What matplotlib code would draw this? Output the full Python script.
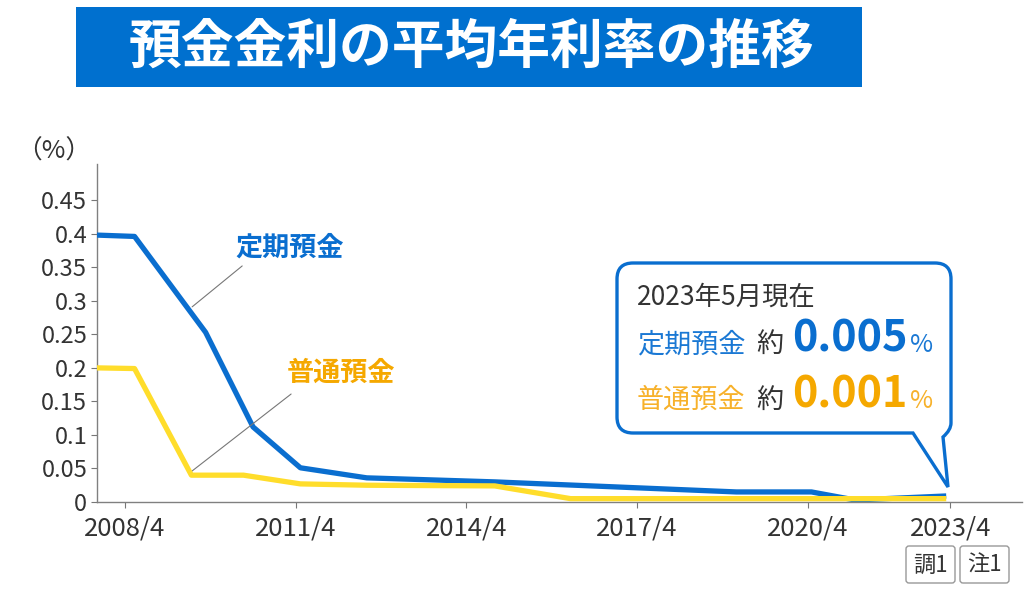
import numpy as np
import matplotlib
matplotlib.use('Agg')
import matplotlib.pyplot as plt
from matplotlib.path import Path
from matplotlib.patches import PathPatch, Rectangle, FancyBboxPatch
from matplotlib.transforms import Affine2D

plt.rcParams['font.family'] = ['Noto Sans CJK JP', 'DejaVu Sans']

# data (year/month, % per year)
teiki_dates = ["2007/10", "2008/6", "2009/9", "2010/7", "2011/5", "2012/7",
               "2014/10", "2019/1", "2020/5", "2021/4", "2023/3"]
teiki_rates = [0.398, 0.396, 0.253, 0.112, 0.051, 0.036,
               0.030, 0.015, 0.015, 0.003, 0.009]
futsu_dates = ["2007/10", "2008/6", "2009/6", "2010/5", "2011/5", "2012/7",
               "2014/10", "2016/2", "2023/3"]
futsu_rates = [0.200, 0.199, 0.040, 0.040, 0.027, 0.025,
               0.024, 0.005, 0.005]
x_tick_labels = ["2008/4", "2011/4", "2014/4", "2017/4", "2020/4", "2023/4"]
y_ticks = [0, 0.05, 0.1, 0.15, 0.2, 0.25, 0.3, 0.35, 0.4, 0.45]
y_tick_labels = ["0", "0.05", "0.1", "0.15", "0.2", "0.25", "0.3", "0.35", "0.4", "0.45"]

BLUE = '#0A6ECF'
YELLOW = '#FFDD2B'
ORANGE = '#F5A800'
DARK = '#333333'
W, H = 1024, 597


def to_year(s):
    y, m = s.split('/')
    return int(y) + (int(m) - 1) / 12


# the last 3 years are drawn a bit narrower in the original
BREAK = 2020.25
K = 143 / 171


def fwd(x):
    x = np.asarray(x, dtype=float)
    return np.where(x <= BREAK, x, BREAK + (x - BREAK) * K)


def inv(x):
    x = np.asarray(x, dtype=float)
    return np.where(x <= BREAK, x, BREAK + (x - BREAK) / K)


fig = plt.figure(figsize=(W / 100, H / 100), dpi=100)
px = Affine2D().scale(1 / W, -1 / H).translate(0, 1) + fig.transFigure

# title
fig.patches.append(Rectangle((76, 7), 786, 80, transform=px, facecolor='#0070CF',
                             edgecolor='none'))
fig.text(471, 47, '預金金利の平均年利率の推移', transform=px, color='white',
         fontsize=38, fontweight='bold', ha='center', va='center')

ax = fig.add_axes([97 / W, 1 - 502 / H, (1022 - 97) / W, (502 - 164) / H])
ax.set_xscale('function', functions=(fwd, inv))

xb = [to_year(d) for d in teiki_dates]
xy_ = [to_year(d) for d in futsu_dates]
ax.plot(xb, teiki_rates, color=BLUE, lw=3.8, solid_capstyle='butt', zorder=3)
ax.plot(xy_, futsu_rates, color=YELLOW, lw=3.8, solid_capstyle='butt', zorder=4)

ax.set_xlim(2007.757, 2024.76)
ax.set_ylim(0, 0.504)
ax.set_xticks([to_year(s) for s in x_tick_labels])
ax.set_xticklabels(x_tick_labels)
ax.set_yticks(y_ticks)
ax.set_yticklabels(y_tick_labels)
ax.minorticks_off()

for s in ['top', 'right']:
    ax.spines[s].set_visible(False)
for s in ['left', 'bottom']:
    ax.spines[s].set_color('#808080')
    ax.spines[s].set_linewidth(1)
ax.tick_params(axis='both', length=4, color='#777777', labelsize=17,
               labelcolor=DARK, direction='out')
ax.tick_params(axis='y', pad=3)
ax.tick_params(axis='x', pad=6, labelsize=18.5)

fig.text(54, 152, '（%）', transform=px, fontsize=18.5, color=DARK,
         ha='center', va='center')

# series labels with leader lines
ax.annotate('', xy=(2009.43, 0.291), xytext=(2010.31, 0.352),
            arrowprops=dict(arrowstyle='-', color='#777777', lw=0.8,
                            shrinkA=0, shrinkB=0))
ax.text(2011.15, 0.380, '定期預金', color=BLUE, fontsize=19.5, fontweight='bold',
        ha='center', va='center')
ax.annotate('', xy=(2009.41, 0.045), xytext=(2011.17, 0.161),
            arrowprops=dict(arrowstyle='-', color='#777777', lw=0.8,
                            shrinkA=0, shrinkB=0))
ax.text(2012.05, 0.192, '普通預金', color=ORANGE, fontsize=19.5, fontweight='bold',
        ha='center', va='center')

# speech bubble
r = 16
verts = [
    (617 + r, 263), (951 - r, 263),
    (951, 263), (951, 263 + r),
    (951, 423),
    (951, 430), (943, 437),
    (948, 487),
    (913, 433),
    (617 + r, 433),
    (617, 433), (617, 433 - r),
    (617, 263 + r),
    (617, 263), (617 + r, 263),
    (617 + r, 263),
]
codes = [Path.MOVETO, Path.LINETO,
         Path.CURVE3, Path.CURVE3,
         Path.LINETO,
         Path.CURVE3, Path.CURVE3,
         Path.LINETO,
         Path.LINETO,
         Path.LINETO,
         Path.CURVE3, Path.CURVE3,
         Path.LINETO,
         Path.CURVE3, Path.CURVE3,
         Path.CLOSEPOLY]
fig.patches.append(PathPatch(Path(verts, codes), transform=px, facecolor='white',
                             edgecolor=BLUE, lw=2.4, joinstyle='miter', zorder=5))

fig.text(637, 305, '2023年5月現在', transform=px, fontsize=19, color=DARK,
         va='baseline', ha='left', zorder=6)
rows = [('定期預金', '0.005', '#1A78D4', BLUE, 352),
        ('普通預金', '0.001', '#F7B12A', ORANGE, 408)]
for name, val, c1, c2, yb in rows:
    fig.text(637, yb, name, transform=px, fontsize=19.5, color=c1,
             va='baseline', ha='left', zorder=6)
    fig.text(756, yb, '約', transform=px, fontsize=19.5, color=DARK,
             va='baseline', ha='left', zorder=6)
    fig.text(792, yb, val, transform=px, fontsize=31, color=c2, fontweight='bold',
             va='baseline', ha='left', zorder=6)
    fig.text(910, yb, '%', transform=px, fontsize=18, color=c1,
             va='baseline', ha='left', zorder=6)

# note boxes
for x0, label in [(906, '調1'), (960, '注1')]:
    fig.patches.append(FancyBboxPatch((x0, 546), 49, 37,
                                      boxstyle='round,pad=0,rounding_size=3',
                                      transform=px, facecolor='white',
                                      edgecolor='#999999', lw=1))
    fig.text(x0 + 24.5, 565, label, transform=px, fontsize=16, color=DARK,
             ha='center', va='center')

fig.savefig('out.png', dpi=100)
